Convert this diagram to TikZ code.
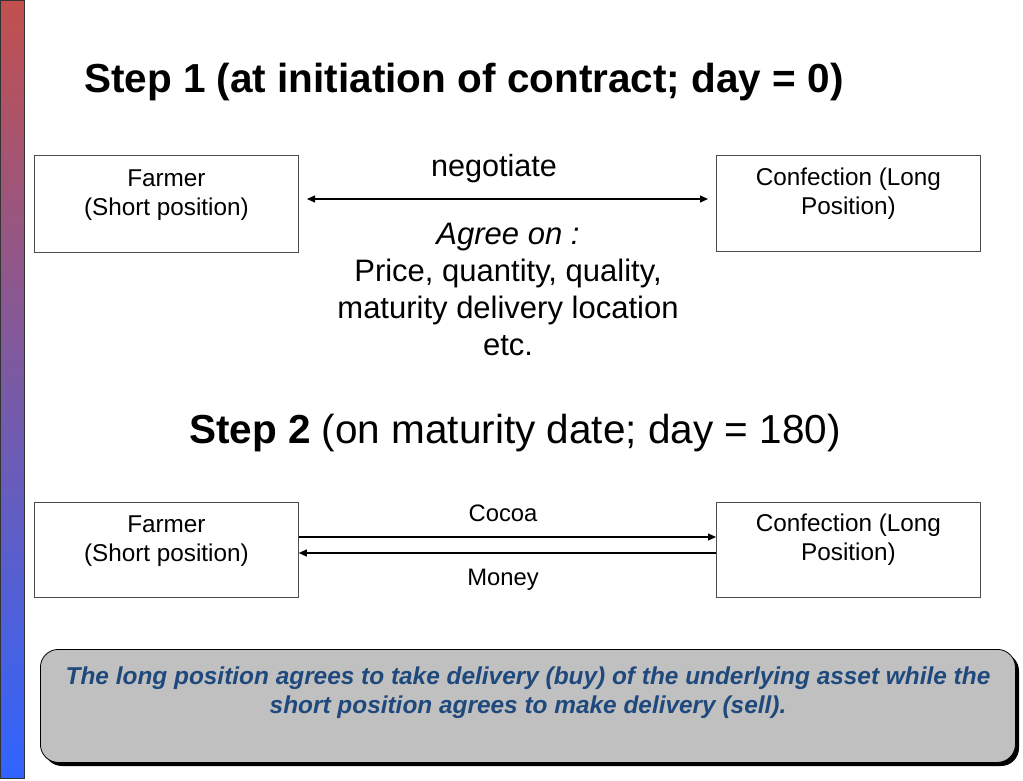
\documentclass[tikz,border=0pt]{standalone}
\usepackage{fontspec}
\setmainfont{Liberation Sans}
\usetikzlibrary{arrows.meta,shadows}
\definecolor{barred}{RGB}{194,80,78}
\definecolor{barblue}{RGB}{48,100,255}
\definecolor{notefill}{RGB}{192,192,192}
\definecolor{notetext}{RGB}{31,73,125}
\begin{document}
\begin{tikzpicture}[x=1pt,y=-1pt,
  party/.style={draw=black!70, line width=0.8pt, fill=white},
  partytext/.style={anchor=north, align=center, font=\fontsize{24.3}{29}\selectfont, inner sep=0pt},
  flow/.style={line width=1.1pt, -{Triangle[length=8pt,width=7pt]}},
  lbl/.style={font=\fontsize{23.8}{26}\selectfont, inner sep=0pt}]
\useasboundingbox (0,0) rectangle (1023,780);
\fill[white] (0,0) rectangle (1023,780);
% left gradient bar
\shade[top color=barred, bottom color=barblue, draw=black!80, line width=0.6pt] (0.5,0.5) rectangle (24,778);
% title
\node[anchor=west, font=\bfseries\fontsize{40.5}{44}\selectfont, inner sep=0pt] (t1) at (84,82) {Step 1 (at initiation of contract; day = 0)};
% step 1 boxes
\node[party, minimum width=264, minimum height=97, anchor=north west] (f1) at (34,155) {};
\node[party, minimum width=264, minimum height=96, anchor=north west] (c1) at (716,155) {};
\node[partytext] (f1t) at ([yshift=-15]f1.north) {Farmer\\(Short position)};
\node[partytext] (c1t) at ([yshift=-13]c1.north) {Confection (Long\\Position)};
\coordinate (a1l) at (307,199);
\coordinate (a1r) at (708,199);
\draw[line width=1.1pt, {Triangle[length=8pt,width=7pt]}-{Triangle[length=8pt,width=7pt]}] (a1l) -- (a1r);
\node[font=\fontsize{30.6}{34}\selectfont, inner sep=0pt] (neg) at (494,169) {negotiate};
\node[anchor=north, align=center, font=\fontsize{31}{37}\selectfont, inner sep=0pt] (agree) at (508,223) {\textit{Agree on :}\\Price, quantity, quality,\\maturity delivery location\\etc.};
% step 2 title
\node[font=\fontsize{40.5}{44}\selectfont, inner sep=0pt] (t2) at (515,433) {\textbf{Step 2} (on maturity date; day = 180)};
% step 2 boxes
\node[party, minimum width=264, minimum height=95, anchor=north west] (f2) at (34,502) {};
\node[party, minimum width=264, minimum height=95, anchor=north west] (c2) at (716,502) {};
\node[partytext] (f2t) at ([yshift=-14]f2.north) {Farmer\\(Short position)};
\node[partytext] (c2t) at ([yshift=-12]c2.north) {Confection (Long\\Position)};
\draw[flow] (f2.east |- 0,537) -- (c2.west |- 0,537);
\draw[flow] (c2.west |- 0,553) -- (f2.east |- 0,553);
\node[lbl] (cocoa) at (503,513) {Cocoa};
\node[lbl] (money) at (503,580) {Money};
% note
\fill[black, rounded corners=18] (44,653) rectangle (1019,766);
\node[draw=black, line width=0.8pt, fill=notefill, rounded corners=18, minimum width=975, minimum height=113, anchor=north west] (note) at (40,649) {};
\node[align=center, text=notetext, font=\bfseries\itshape\fontsize{24.4}{29}\selectfont, inner sep=0pt, anchor=north] (notet) at (528,667) {The long position agrees to take delivery (buy) of the underlying asset while the\\short position agrees to make delivery (sell).};
\end{tikzpicture}
\end{document}
